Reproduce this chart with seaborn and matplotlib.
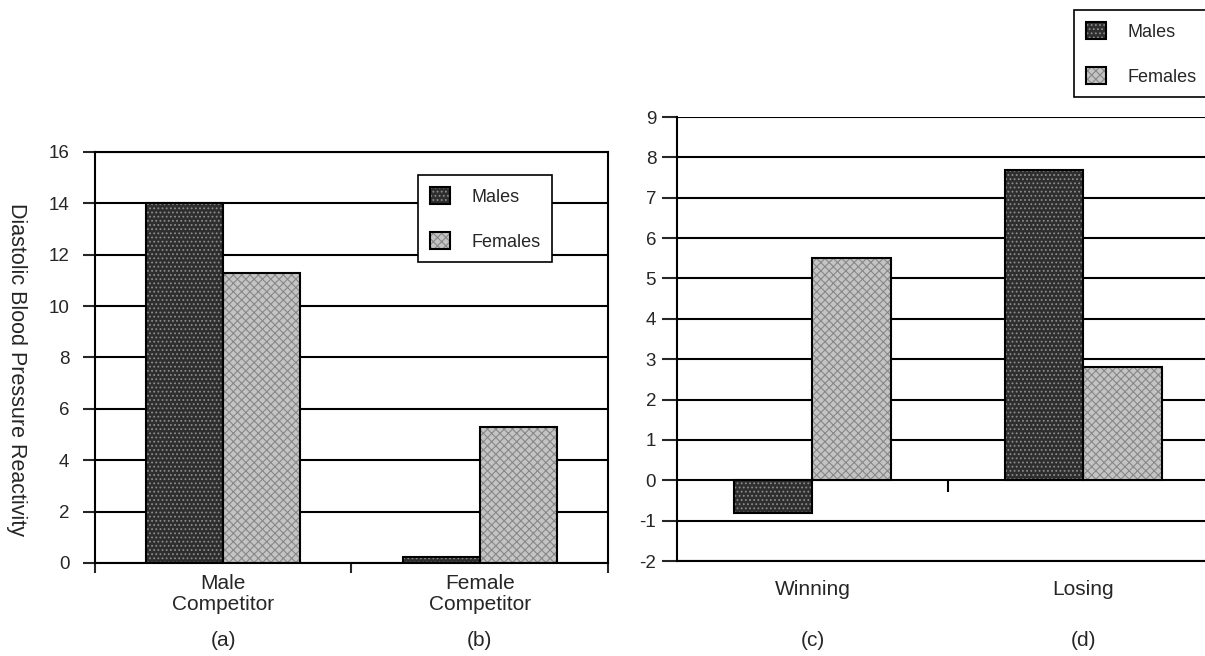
import numpy as np
import pandas as pd
import matplotlib
matplotlib.use("Agg")
import matplotlib.pyplot as plt
import matplotlib.transforms as mtransforms
from matplotlib.colors import to_rgba
from matplotlib.patches import Patch, Rectangle
from matplotlib.legend_handler import HandlerTuple
import seaborn as sns

# values
competitor = ["Male\nCompetitor", "Female\nCompetitor"]
comp_males = [14.0, 0.25]
comp_females = [11.3, 5.3]

outcome = ["Winning", "Losing"]
out_males = [-0.8, 7.7]
out_females = [5.5, 2.8]

groups = ["Males", "Females"]
tags_left = ["(a)", "(b)"]
tags_right = ["(c)", "(d)"]
ylab = "Diastolic Blood Pressure Reactivity"

# grey-scale textures
face = {"Males": "#2e2e2e", "Females": "#c4c4c4"}
hatch = {"Males": "....", "Females": "xxxx"}
hatch_col = {"Males": "#8c8c8c", "Females": "#888888"}

sns.set_style("white")
plt.rcParams["font.family"] = ["Liberation Sans", "DejaVu Sans"]
plt.rcParams["axes.unicode_minus"] = False
plt.rcParams["hatch.linewidth"] = 0.8


def long_table(cats, males, females):
    return pd.DataFrame({
        "cat": cats * 2,
        "group": ["Males"] * len(cats) + ["Females"] * len(cats),
        "value": males + females,
    })


def draw(ax, df, width):
    sns.barplot(data=df, x="cat", y="value", hue="group", hue_order=groups,
                palette=face, width=width, saturation=1, errorbar=None,
                legend=False, ax=ax)
    for p in list(ax.patches):
        for g in groups:
            if np.allclose(p.get_facecolor(), to_rgba(face[g])):
                p.set_hatch(hatch[g])
                p.set_edgecolor(hatch_col[g])
                p.set_linewidth(0)
        ax.add_patch(Rectangle(p.get_xy(), p.get_width(), p.get_height(),
                               fill=False, ec="black", lw=1.5,
                               zorder=p.get_zorder() + 0.1))
    ax.set_axisbelow(True)
    ax.yaxis.grid(True, color="black", lw=1.5)
    ax.set_xlabel("")
    ax.set_ylabel("")
    cats = list(df["cat"].unique())
    ax.set_xlim(-0.5, 1.5)
    ax.set_xticks([-0.5, 0.5, 1.5])
    ax.set_xticklabels([])
    ax.set_xticks([0, 1], minor=True)
    ax.set_xticklabels(cats, minor=True, fontsize=15, linespacing=1.15)
    for s in ax.spines.values():
        s.set_color("black")
        s.set_linewidth(1.5)


def legend_handles():
    hs = []
    for g in groups:
        hs.append((Patch(facecolor=face[g], hatch=hatch[g], edgecolor=hatch_col[g], lw=0),
                   Patch(fill=False, edgecolor="black", lw=1.5)))
    return hs


leg_kw = dict(handler_map={tuple: HandlerTuple(ndivide=1)}, frameon=True,
              fancybox=False, edgecolor="black", framealpha=1, fontsize=13,
              handlelength=1.1, handleheight=1.1, labelspacing=1.45,
              handletextpad=1.2, borderpad=0.65, borderaxespad=0)

fig = plt.figure(figsize=(12.05, 6.56), dpi=100)
ax1 = fig.add_axes([0.0788, 0.1418, 0.4257, 0.6265])
ax2 = fig.add_axes([0.5618, 0.1448, 0.4498, 0.6768])

# left panel
draw(ax1, long_table(competitor, comp_males, comp_females), 0.6)
ax1.set_ylim(0, 16)
ax1.set_yticks(np.arange(0, 17, 2))
ax1.tick_params(axis="y", length=8.5, width=1.5, pad=10, labelsize=13.5, left=True)
ax1.tick_params(axis="x", which="major", length=7, width=1.5, bottom=True)
ax1.tick_params(axis="x", which="minor", length=0, pad=8)
ax1.set_ylabel(ylab, rotation=270, fontsize=15.5, va="center", ha="center")
ax1.yaxis.set_label_coords(-0.152, 0.47)
lg1 = ax1.legend(legend_handles(), groups, loc="upper left",
                 bbox_to_anchor=(0.63, 0.944), **leg_kw)
lg1.get_frame().set_linewidth(1.2)

# right panel
draw(ax2, long_table(outcome, out_males, out_females), 0.58)
ax2.set_ylim(-2, 9)
ax2.set_yticks(np.arange(-2, 10, 1))
ax2.tick_params(axis="y", length=11, width=1.5, pad=4, labelsize=13.5, left=True)
ax2.tick_params(axis="x", which="major", length=0)
ax2.tick_params(axis="x", which="minor", length=0, pad=14)
ax2.spines["top"].set_visible(False)
ax2.spines["right"].set_visible(False)
lo, hi = ax2.get_ylim()
sec = ax2.secondary_xaxis((0 - lo) / (hi - lo))
sec.set_xticks([0.5])
sec.set_xticklabels([])
sec.spines["bottom"].set_visible(False)
sec.tick_params(length=8.5, width=1.5, color="black", direction="out")

lg2 = fig.legend(legend_handles(), groups, loc="upper left",
                 bbox_to_anchor=(1074 / 1205, 1 - 10 / 656), **leg_kw)
lg2.get_frame().set_linewidth(1.2)

# panel tags under each category
for ax, tags in [(ax1, tags_left), (ax2, tags_right)]:
    tr = mtransforms.blended_transform_factory(ax.transData, fig.transFigure)
    for i, t in enumerate(tags):
        ax.text(i, 1 - 640 / 656, t, transform=tr, ha="center", va="center",
                fontsize=15)

fig.savefig("out.png", dpi=100)
